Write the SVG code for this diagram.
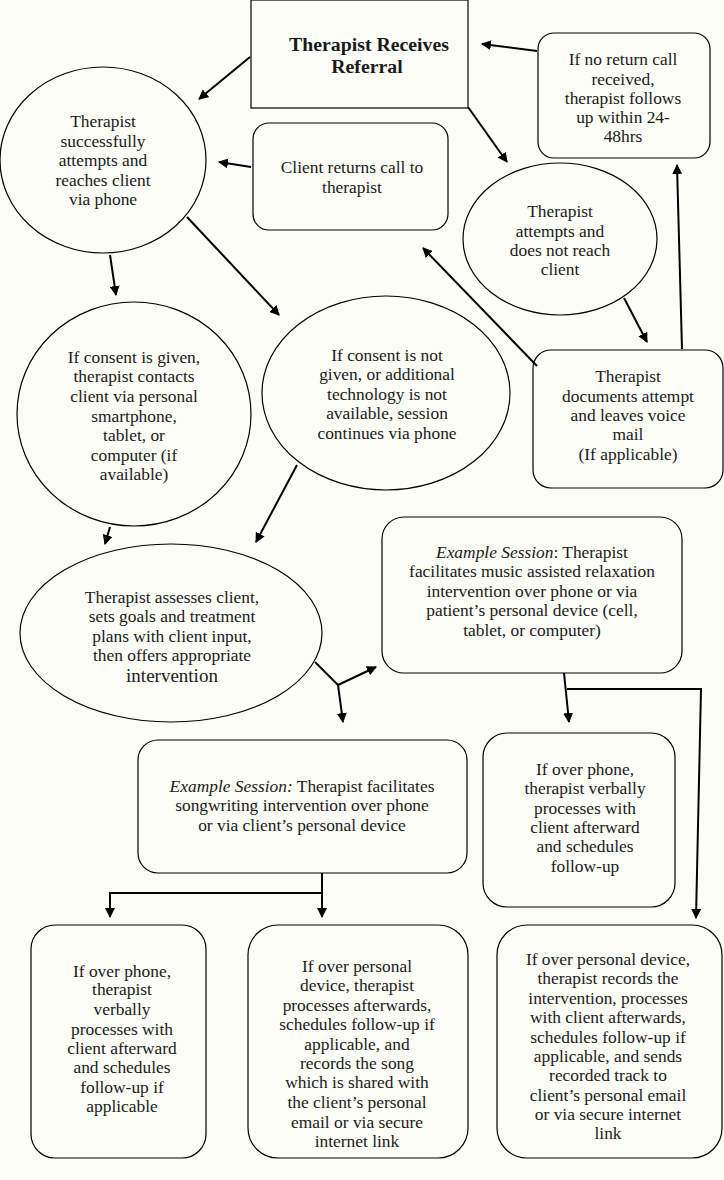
<svg xmlns="http://www.w3.org/2000/svg" width="724" height="1180" viewBox="0 0 724 1180">
<style>
.bg{fill:#fdfdf8}
.n{fill:#fdfdf8;stroke:#000;stroke-width:1.2}
.t{font-family:"Liberation Serif","DejaVu Serif",serif;font-size:17.4px;fill:#1a1a1a;text-anchor:middle}
.b{font-weight:bold;font-size:19.8px}
.c{fill:none;stroke:#000;stroke-width:2}
</style>
<defs>
<marker id="ah" viewBox="0 0 10 10" refX="9" refY="5" markerWidth="5" markerHeight="5" orient="auto" markerUnits="strokeWidth">
<path d="M0,0 L10,5 L0,10 z" fill="#000"/>
</marker>
</defs>
<rect class="bg" x="0" y="0" width="724" height="1180"/>

<g id="referral">
<rect class="n" x="251" y="0" width="217" height="108"/>
<text class="t b" x="369" y="51">Therapist Receives</text>
<text class="t b" x="367" y="73">Referral</text>
</g>

<g id="reaches">
<ellipse class="n" cx="103" cy="160" rx="103" ry="93"/>
<text class="t" x="103" y="127">Therapist</text>
<text class="t" x="103" y="147">successfully</text>
<text class="t" x="103" y="166">attempts and</text>
<text class="t" x="103" y="186">reaches client</text>
<text class="t" x="103" y="205">via phone</text>
</g>

<g id="returns">
<rect class="n" x="253" y="123" width="195" height="107" rx="16"/>
<text class="t" x="352" y="173">Client returns call to</text>
<text class="t" x="352" y="193">therapist</text>
</g>

<g id="noreturn">
<rect class="n" x="538" y="33" width="172" height="125" rx="16"/>
<text class="t" x="623" y="65">If no return call</text>
<text class="t" x="623" y="85">received,</text>
<text class="t" x="623" y="104">therapist follows</text>
<text class="t" x="623" y="123">up within 24-</text>
<text class="t" x="623" y="142">48hrs</text>
</g>

<g id="notreach">
<ellipse class="n" cx="560" cy="239" rx="97" ry="76"/>
<text class="t" x="560" y="217">Therapist</text>
<text class="t" x="560" y="237">attempts and</text>
<text class="t" x="560" y="256">does not reach</text>
<text class="t" x="560" y="275">client</text>
</g>

<g id="documents">
<rect class="n" x="533" y="350" width="190" height="138" rx="18"/>
<text class="t" x="628" y="382">Therapist</text>
<text class="t" x="628" y="402">documents attempt</text>
<text class="t" x="628" y="421">and leaves voice</text>
<text class="t" x="628" y="440">mail</text>
<text class="t" x="628" y="460">(If applicable)</text>
</g>

<g id="consent">
<ellipse class="n" cx="134" cy="414" rx="117" ry="112"/>
<text class="t" x="134" y="363">If consent is given,</text>
<text class="t" x="134" y="382">therapist contacts</text>
<text class="t" x="134" y="402">client via personal</text>
<text class="t" x="134" y="422">smartphone,</text>
<text class="t" x="134" y="441">tablet, or</text>
<text class="t" x="134" y="461">computer (if</text>
<text class="t" x="134" y="480">available)</text>
</g>

<g id="noconsent">
<ellipse class="n" cx="386" cy="393" rx="124" ry="97"/>
<text class="t" x="387" y="361">If consent is not</text>
<text class="t" x="387" y="380">given, or additional</text>
<text class="t" x="387" y="400">technology is not</text>
<text class="t" x="387" y="419">available, session</text>
<text class="t" x="387" y="439">continues via phone</text>
</g>

<g id="assesses">
<ellipse class="n" cx="171" cy="633" rx="151" ry="89"/>
<text class="t" x="172" y="603">Therapist assesses client,</text>
<text class="t" x="172" y="622">sets goals and treatment</text>
<text class="t" x="172" y="642">plans with client input,</text>
<text class="t" x="172" y="661">then offers appropriate</text>
<text class="t" x="172" y="682" style="font-size:19px">intervention</text>
</g>

<g id="music">
<rect class="n" x="382" y="517" width="300" height="156" rx="22"/>
<text class="t" x="532" y="558"><tspan font-style="italic">Example Session</tspan>: Therapist</text>
<text class="t" x="532" y="577">facilitates music assisted relaxation</text>
<text class="t" x="532" y="597">intervention over phone or via</text>
<text class="t" x="532" y="616">patient’s personal device (cell,</text>
<text class="t" x="532" y="636">tablet, or computer)</text>
</g>

<g id="songwriting">
<rect class="n" x="138" y="740" width="329" height="133" rx="20"/>
<text class="t" x="302" y="792"><tspan font-style="italic">Example Session:</tspan> Therapist facilitates</text>
<text class="t" x="302" y="811">songwriting intervention over phone</text>
<text class="t" x="302" y="831">or via client’s personal device</text>
</g>

<g id="phone-music">
<rect class="n" x="483" y="733" width="192" height="174" rx="24"/>
<text class="t" x="585" y="775">If over phone,</text>
<text class="t" x="585" y="794">therapist verbally</text>
<text class="t" x="585" y="814">processes with</text>
<text class="t" x="585" y="833">client afterward</text>
<text class="t" x="585" y="852">and schedules</text>
<text class="t" x="585" y="872">follow-up</text>
</g>

<g id="phone-song">
<rect class="n" x="31" y="925" width="175" height="233" rx="24"/>
<text class="t" x="122" y="977">If over phone,</text>
<text class="t" x="122" y="995">therapist</text>
<text class="t" x="122" y="1015">verbally</text>
<text class="t" x="122" y="1035">processes with</text>
<text class="t" x="122" y="1054">client afterward</text>
<text class="t" x="122" y="1073">and schedules</text>
<text class="t" x="122" y="1093">follow-up if</text>
<text class="t" x="122" y="1112">applicable</text>
</g>

<g id="device-song">
<rect class="n" x="248" y="925" width="220" height="233" rx="30"/>
<text class="t" x="357" y="972">If over personal</text>
<text class="t" x="357" y="991">device, therapist</text>
<text class="t" x="357" y="1011">processes afterwards,</text>
<text class="t" x="357" y="1030">schedules follow-up if</text>
<text class="t" x="357" y="1050">applicable, and</text>
<text class="t" x="357" y="1069">records the song</text>
<text class="t" x="357" y="1088">which is shared with</text>
<text class="t" x="357" y="1108">the client’s personal</text>
<text class="t" x="357" y="1128">email or via secure</text>
<text class="t" x="357" y="1147">internet link</text>
</g>

<g id="device-music">
<rect class="n" x="497" y="925" width="225" height="233" rx="30"/>
<text class="t" x="608" y="965">If over personal device,</text>
<text class="t" x="608" y="984">therapist records the</text>
<text class="t" x="608" y="1004">intervention, processes</text>
<text class="t" x="608" y="1023">with client afterwards,</text>
<text class="t" x="608" y="1043">schedules follow-up if</text>
<text class="t" x="608" y="1062">applicable, and sends</text>
<text class="t" x="608" y="1081">recorded track to</text>
<text class="t" x="608" y="1101">client’s personal email</text>
<text class="t" x="608" y="1120">or via secure internet</text>
<text class="t" x="608" y="1139">link</text>
</g>

<g id="connectors">
<line class="c" x1="250" y1="57" x2="199" y2="99" marker-end="url(#ah)"/>
<line class="c" x1="251" y1="167" x2="219" y2="162" marker-end="url(#ah)"/>
<line class="c" x1="468" y1="107" x2="507" y2="162" marker-end="url(#ah)"/>
<line class="c" x1="537" y1="51" x2="482" y2="44" marker-end="url(#ah)"/>
<line class="c" x1="682" y1="349" x2="677" y2="165" marker-end="url(#ah)"/>
<line class="c" x1="624" y1="298" x2="647" y2="342" marker-end="url(#ah)"/>
<line class="c" x1="537" y1="366" x2="423" y2="248" marker-end="url(#ah)"/>
<line class="c" x1="110" y1="255" x2="116" y2="295" marker-end="url(#ah)"/>
<line class="c" x1="187" y1="217" x2="279" y2="315" marker-end="url(#ah)"/>
<line class="c" x1="110" y1="527" x2="105" y2="544" marker-end="url(#ah)"/>
<line class="c" x1="297" y1="465" x2="256" y2="542" marker-end="url(#ah)"/>
<polyline class="c" points="315,662 338,685"/>
<line class="c" x1="338" y1="685" x2="376" y2="667" marker-end="url(#ah)"/>
<line class="c" x1="338" y1="685" x2="343" y2="722" marker-end="url(#ah)"/>
<line class="c" x1="564" y1="673" x2="569" y2="722" marker-end="url(#ah)"/>
<polyline class="c" points="567,689 701,689 696,918" marker-end="url(#ah)"/>
<line class="c" x1="322" y1="873" x2="322" y2="917" marker-end="url(#ah)"/>
<polyline class="c" points="322,893 110,893 110,917" marker-end="url(#ah)"/>
</g>
</svg>
